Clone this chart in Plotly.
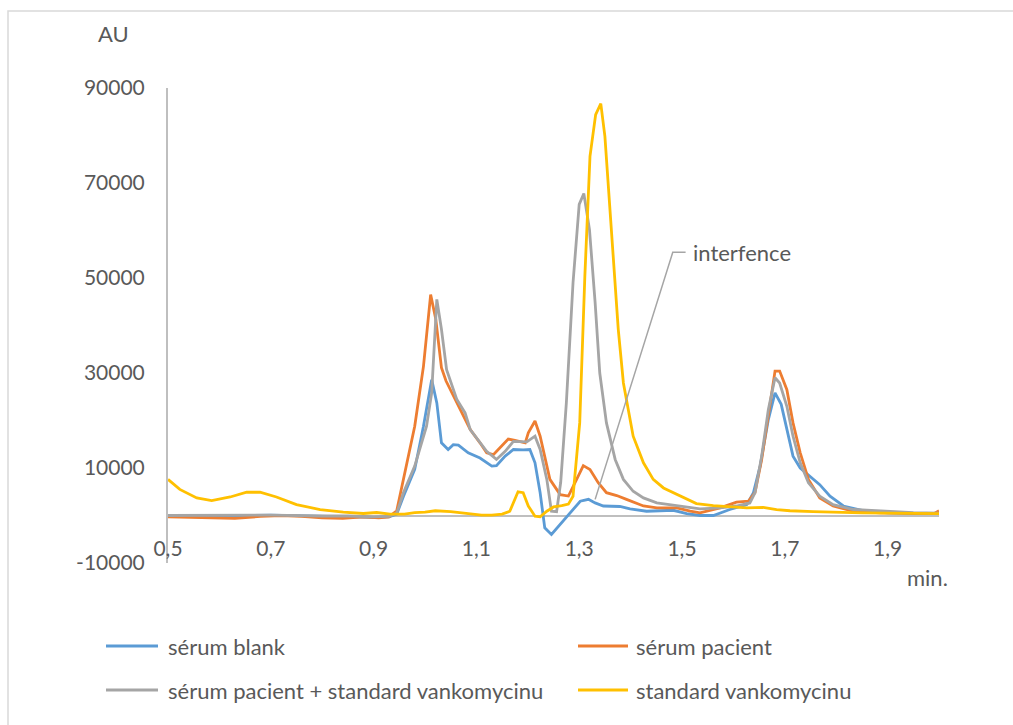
import plotly.graph_objects as go

# ---------------- data ----------------
blank_t = [0.50, 0.55, 0.60, 0.65, 0.70, 0.75, 0.80, 0.85, 0.90, 0.93, 0.945, 0.958, 0.980, 0.997,
           1.013, 1.023, 1.032, 1.045, 1.055, 1.065, 1.084, 1.107, 1.130, 1.139, 1.156, 1.172, 1.191,
           1.204, 1.214, 1.224, 1.233, 1.246, 1.263, 1.282, 1.302, 1.318, 1.331, 1.347, 1.379, 1.399,
           1.431, 1.483, 1.509, 1.535, 1.561, 1.593, 1.626, 1.639, 1.652, 1.668, 1.681, 1.693, 1.704,
           1.716, 1.730, 1.749, 1.768, 1.788, 1.814, 1.850, 1.900, 1.950, 2.000]
blank_v = [0, 0, -100, 0, 100, 0, -200, -200, -400, -300, 300, 4000, 9700, 18800,
           28600, 23700, 15300, 13900, 14900, 14800, 13200, 12100, 10400, 10500, 12500, 13900, 13800,
           13900, 11100, 4800, -2600, -4000, -1900, 560, 3000, 3400, 2650, 2000, 1900, 1400,
           900, 1100, 400, 0, 0, 1260, 2300, 4800, 10400, 20200, 25800, 23400, 18100,
           12500, 10000, 8300, 6500, 4060, 2000, 1100, 560, 400, 400]

pacient_t = [0.50, 0.55, 0.60, 0.63, 0.68, 0.72, 0.76, 0.80, 0.84, 0.88, 0.91, 0.93, 0.945, 0.964,
             0.980, 0.997, 1.011, 1.021, 1.032, 1.041, 1.062, 1.088, 1.107, 1.120, 1.133, 1.146,
             1.162, 1.175, 1.195, 1.201, 1.214, 1.224, 1.243, 1.263, 1.279, 1.295, 1.308, 1.321,
             1.337, 1.353, 1.373, 1.392, 1.425, 1.451, 1.490, 1.516, 1.535, 1.574, 1.606, 1.629,
             1.642, 1.655, 1.668, 1.681, 1.690, 1.704, 1.716, 1.730, 1.746, 1.768, 1.794, 1.833,
             1.885, 1.950, 1.990, 2.000]
pacient_v = [-300, -400, -600, -600, -200, 0, -200, -500, -600, -300, -500, -300, 1000, 10400,
             18800, 31400, 46500, 41300, 31100, 28300, 23700, 18100, 15300, 13200, 12800, 14200,
             16100, 15800, 15300, 17400, 19900, 16700, 7600, 4400, 4100, 7600, 10500, 9700,
             6900, 4800, 4200, 3400, 2000, 1600, 1600, 900, 560, 1600, 2800, 3000,
             4800, 11800, 20900, 30400, 30400, 26500, 19500, 13200, 7600, 3700, 2000, 900,
             560, 400, 400, 1000]

mix_t = [0.50, 0.60, 0.70, 0.80, 0.85, 0.90, 0.93, 0.945, 0.958, 0.980, 1.003, 1.013, 1.023, 1.032,
         1.042, 1.062, 1.078, 1.088, 1.107, 1.120, 1.139, 1.156, 1.172, 1.185, 1.198, 1.214, 1.224,
         1.237, 1.246, 1.256, 1.264, 1.275, 1.288, 1.300, 1.309, 1.320, 1.331, 1.340, 1.353, 1.370,
         1.386, 1.405, 1.425, 1.451, 1.477, 1.502, 1.535, 1.574, 1.606, 1.632, 1.642, 1.655, 1.668,
         1.681, 1.690, 1.704, 1.716, 1.730, 1.746, 1.768, 1.794, 1.833, 1.885, 1.950, 2.000]
mix_v = [0, 0, 100, -100, -100, -300, -200, 500, 4800, 10400, 18800, 25800, 45500, 39200,
         30700, 24400, 21600, 18100, 15300, 13500, 11800, 13500, 15600, 15600, 15500, 16700, 13900,
         7600, 900, 800, 7000, 23700, 49000, 65500, 67800, 60200, 44800, 30000, 19500, 11800,
         7600, 5100, 3700, 2650, 2300, 2000, 1400, 1600, 2000, 2650, 4800, 12500, 22300,
         29000, 27900, 23000, 16700, 11100, 6900, 4060, 2300, 1260, 900, 600, 500]

std_t = [0.500, 0.523, 0.556, 0.585, 0.621, 0.653, 0.679, 0.711, 0.750, 0.796, 0.841, 0.880, 0.906,
         0.932, 0.960, 0.980, 1.000, 1.020, 1.050, 1.080, 1.110, 1.130, 1.150, 1.165, 1.181, 1.191,
         1.201, 1.214, 1.224, 1.237, 1.250, 1.266, 1.279, 1.288, 1.301, 1.311, 1.321, 1.332, 1.342,
         1.350, 1.363, 1.376, 1.386, 1.405, 1.425, 1.444, 1.464, 1.490, 1.516, 1.528, 1.561, 1.593,
         1.626, 1.658, 1.684, 1.710, 1.755, 1.850, 2.000]
std_v = [7600, 5500, 3700, 3150, 3900, 4900, 4900, 3900, 2300, 1260, 700, 420, 630,
         280, 300, 600, 700, 1000, 800, 500, 100, 100, 300, 900, 5000, 4800,
         2000, -140, -280, 900, 1800, 2100, 2400, 4060, 19500, 50400, 75600, 84400, 86700,
         79800, 58800, 39200, 27900, 16700, 11100, 7600, 5800, 4400, 3000, 2500, 2100, 1800,
         1600, 1700, 1260, 1000, 800, 560, 400]

series_names = ["sérum blank", "sérum pacient",
                "sérum pacient + standard vankomycinu", "standard vankomycinu"]
series_colors = ["#5B9BD5", "#ED7D31", "#A5A5A5", "#FFC000"]

x_tickvals = [0.5, 0.7, 0.9, 1.1, 1.3, 1.5, 1.7, 1.9]
x_ticktext = ["0,5", "0,7", "0,9", "1,1", "1,3", "1,5", "1,7", "1,9"]
y_tickvals = [-10000, 10000, 30000, 50000, 70000, 90000]
y_ticktext = ["-10000", "10000", "30000", "50000", "70000", "90000"]

# callout "interfence": anchor point, elbow, end of horizontal segment
callout_t = [1.331, 1.482, 1.507]
callout_v = [3400, 55400, 55400]
callout_label = "interfence"

FONT = "Lato"
TXT = "#595959"
AXC = "#BFBFBF"
W, H = 1013, 725
L, R, T, B = 168, 74, 88, 162
pw, ph = W - L - R, H - T - B


def px(xp):
    return (xp - L) / pw


def py(yp):
    return (H - B - yp) / ph


fig = go.Figure()
data = [(blank_t, blank_v), (pacient_t, pacient_v), (mix_t, mix_v), (std_t, std_v)]
for (t, v), name, col in zip(data, series_names, series_colors):
    fig.add_trace(go.Scatter(x=t, y=v, mode="lines", name=name,
                             line=dict(color=col, width=2.8), showlegend=False))

fig.add_trace(go.Scatter(x=callout_t, y=callout_v, mode="lines",
                         line=dict(color="#A5A5A5", width=1.5), showlegend=False,
                         hoverinfo="skip"))
fig.add_annotation(x=callout_t[-1], y=callout_v[-1], xref="x", yref="y",
                   text=callout_label, showarrow=False, xanchor="left", yanchor="middle",
                   xshift=5, font=dict(family=FONT, size=22, color=TXT))

fig.update_layout(
    width=W, height=H,
    margin=dict(l=L, r=R, t=T, b=B),
    paper_bgcolor="white", plot_bgcolor="white",
    font=dict(family=FONT, size=21, color=TXT),
    showlegend=False,
    xaxis=dict(range=[0.5, 2.0], tickvals=x_tickvals, ticktext=x_ticktext,
               showgrid=False, zeroline=False, showline=False,
               anchor="free", position=0.1, ticks="", ticklabelstandoff=18,
               tickfont=dict(family=FONT, size=21, color=TXT)),
    yaxis=dict(range=[-10000, 90000], tickvals=y_tickvals, ticktext=y_ticktext,
               showgrid=False, zeroline=True, zerolinecolor=AXC, zerolinewidth=2,
               showline=True, linecolor=AXC, linewidth=2, ticks="",
               ticklabelstandoff=17, tickfont=dict(family=FONT, size=21, color=TXT)),
)

# axis titles
fig.add_annotation(x=px(113), y=py(33), xref="paper", yref="paper", text="AU", showarrow=False,
                   xanchor="center", yanchor="middle",
                   font=dict(family=FONT, size=22, color=TXT))
fig.add_annotation(x=px(927), y=py(577), xref="paper", yref="paper", text="min.", showarrow=False,
                   xanchor="center", yanchor="middle",
                   font=dict(family=FONT, size=22, color=TXT))

# legend (2 x 2 grid) built from series names / colours
leg_cols = [(106, 158, 166), (578, 628, 634)]
leg_rows = [646, 690]
for i, (name, col) in enumerate(zip(series_names, series_colors)):
    x0, x1, xt = leg_cols[i % 2]
    yr = leg_rows[i // 2]
    fig.add_shape(type="line", xref="paper", yref="paper", x0=px(x0), x1=px(x1),
                  y0=py(yr), y1=py(yr), line=dict(color=col, width=3))
    fig.add_annotation(x=px(xt), y=py(yr), xref="paper", yref="paper", text=name,
                       showarrow=False, xanchor="left", yanchor="middle",
                       font=dict(family=FONT, size=22, color=TXT))

# outer chart border (light gray)
fig.add_shape(type="rect", xref="paper", yref="paper",
              x0=px(8), x1=px(1030), y0=py(745), y1=py(11),
              line=dict(color="#D9D9D9", width=1.5), fillcolor="rgba(0,0,0,0)", layer="below")

fig.write_html("out.html", config={"displayModeBar": False},
               post_script="document.body.style.margin='0';")
